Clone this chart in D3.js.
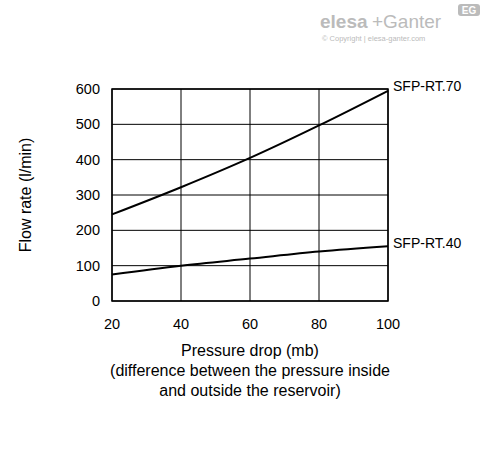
<!DOCTYPE html>
<html><head><meta charset="utf-8">
<script src="https://cdn.jsdelivr.net/npm/d3@7"></script>
<style>body{margin:0;background:#fff}</style>
</head><body>
<script>
const xTicks = [20, 40, 60, 80, 100];
const yTicks = [0, 100, 200, 300, 400, 500, 600];
const rt70 = [[20, 245], [40, 322], [60, 405], [80, 497], [100, 595]];
const rt40 = [[20, 75], [40, 100], [60, 120], [80, 140], [100, 155]];
const seriesNames = ['SFP-RT.70', 'SFP-RT.40'];

const svg = d3.select('body').append('svg').attr('width', 488).attr('height', 454)
    .style('font-family', 'Liberation Sans, Arial, sans-serif');

const x = d3.scaleLinear().domain([20, 100]).range([112, 388]);
const y = d3.scaleLinear().domain([0, 600]).range([301, 89]);

// grid
svg.append('g').selectAll('line').data(xTicks).join('line')
    .attr('x1', d => x(d)).attr('x2', d => x(d)).attr('y1', y(0)).attr('y2', y(600))
    .attr('stroke', '#000').attr('stroke-width', 1);
svg.append('g').selectAll('line').data(yTicks).join('line')
    .attr('x1', x(20)).attr('x2', x(100)).attr('y1', d => y(d)).attr('y2', d => y(d))
    .attr('stroke', '#000').attr('stroke-width', 1);
svg.append('rect').attr('x', x(20)).attr('y', y(600)).attr('width', x(100) - x(20))
    .attr('height', y(0) - y(600)).attr('fill', 'none').attr('stroke', '#000').attr('stroke-width', 1.5);

// tick labels
svg.append('g').selectAll('text').data(yTicks).join('text')
    .attr('x', x(20) - 12).attr('y', d => y(d) + 5).attr('text-anchor', 'end')
    .attr('font-size', 14.5).text(d => d);
svg.append('g').selectAll('text').data(xTicks).join('text')
    .attr('x', d => x(d)).attr('y', 329).attr('text-anchor', 'middle')
    .attr('font-size', 14.5).text(d => d);

const line = d3.line().x(d => x(d[0])).y(d => y(d[1])).curve(d3.curveMonotoneX);
[rt70, rt40].forEach((s, i) => {
    svg.append('path').attr('d', line(s)).attr('fill', 'none').attr('stroke', '#000').attr('stroke-width', 2);
    svg.append('text').attr('x', x(100) + 5).attr('y', y(s[s.length - 1][1]) + (i ? 2 : 0))
        .attr('font-size', 14).text(seriesNames[i]);
});

// axis titles
svg.append('text').attr('transform', `translate(31,${y(300)}) rotate(-90)`)
    .attr('text-anchor', 'middle').attr('font-size', 16).text('Flow rate (l/min)');
[['Pressure drop (mb)', 356], ['(difference between the pressure inside', 376], ['and outside the reservoir)', 396]]
    .forEach(([t, yy]) => svg.append('text').attr('x', 250).attr('y', yy).attr('text-anchor', 'middle')
        .attr('font-size', 16).text(t));

// logo
svg.append('text').attr('x', 320).attr('y', 28).attr('font-size', 19).attr('font-weight', 'bold')
    .attr('fill', '#bbb').text('elesa');
svg.append('text').attr('x', 372).attr('y', 28).attr('font-size', 19).attr('fill', '#bbb').text('+Ganter');
svg.append('rect').attr('x', 458).attr('y', 4).attr('width', 22).attr('height', 12).attr('rx', 3).attr('fill', '#bbb');
svg.append('text').attr('x', 469).attr('y', 14).attr('text-anchor', 'middle').attr('font-size', 10)
    .attr('font-weight', 'bold').attr('fill', '#fff').text('EG');
svg.append('text').attr('x', 322).attr('y', 41).attr('font-size', 7.5).attr('fill', '#bbb')
    .text('© Copyright | elesa-ganter.com');
</script>
</body></html>
